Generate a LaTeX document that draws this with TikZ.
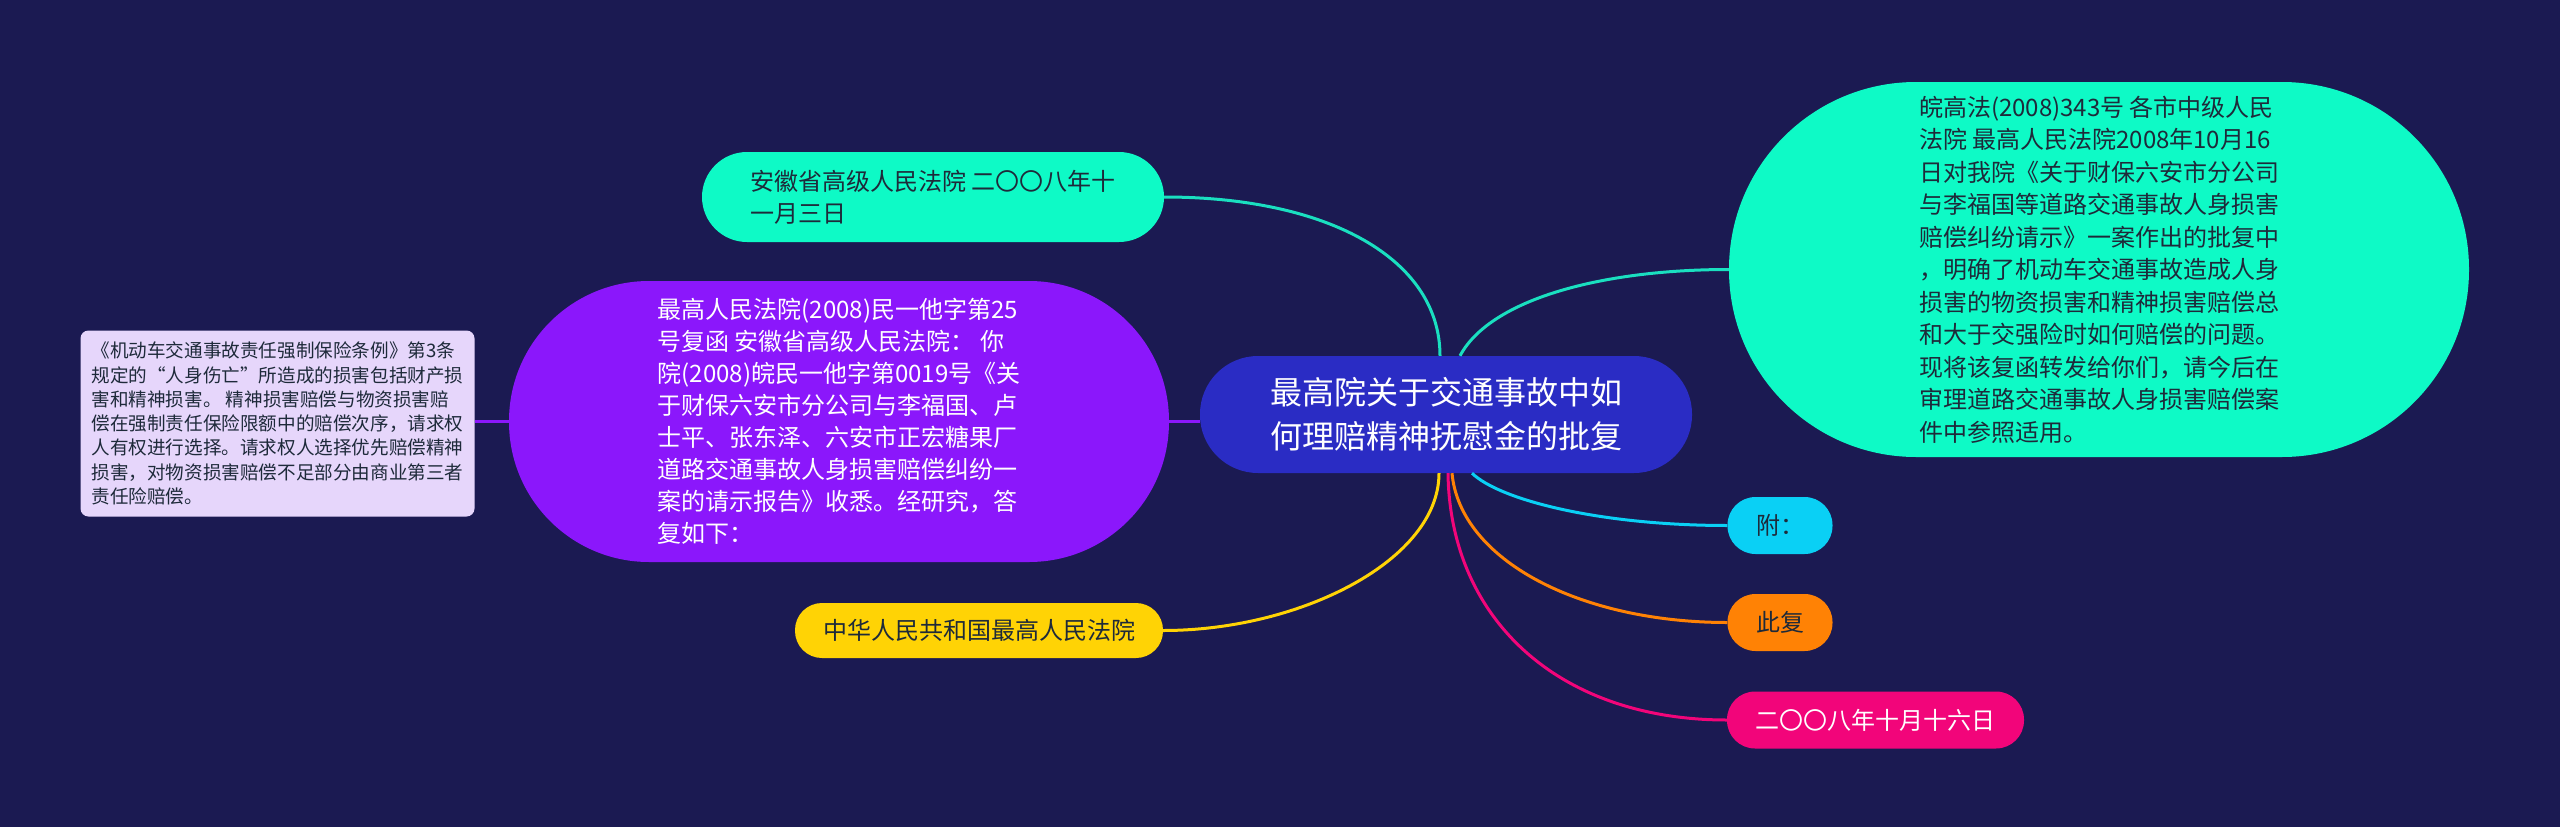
\documentclass[tikz,border=0pt]{standalone}
\usepackage{fontspec}
\setmainfont{Noto Sans CJK SC}
\definecolor{fondoMapa}{HTML}{1B1A52}
\definecolor{azulCentro}{HTML}{2A2CC4}
\definecolor{turquesaMapa}{HTML}{0EFAC6}
\definecolor{lineaTurquesa}{HTML}{1ADFC0}
\definecolor{moradoMapa}{HTML}{8B17FB}
\definecolor{lilaNota}{HTML}{E6D6FB}
\definecolor{amarilloMapa}{HTML}{FFD305}
\definecolor{cianMapa}{HTML}{0AD0F5}
\definecolor{naranjaMapa}{HTML}{FF8205}
\definecolor{rosaMapa}{HTML}{F2057A}
\definecolor{textoOscuro}{HTML}{1E2A3A}

\begin{document}
\begin{tikzpicture}[x=1pt,y=-1pt,
  pill/.style={rounded corners=#1,inner sep=0pt,align=left,text=textoOscuro,
    font=\fontsize{24}{32}\selectfont},
  link/.style={line width=3pt}]
  \fill[fondoMapa] (0,0) rectangle (2560,827);
  \node[pill=58pt,fill=azulCentro,text=white,align=center,font=\fontsize{32}{44}\selectfont,
    minimum width=492pt,minimum height=117pt] (hub) at (1446,414.5)
    {最高院关于交通事故中如\\何理赔精神抚慰金的批复};
  \node[pill=45pt,fill=turquesaMapa,minimum width=462pt,minimum height=90pt] (court) at (933,197)
    {安徽省高级人民法院 二〇〇八年十\\一月三日};
  \node[pill=140pt,fill=moradoMapa,text=white,minimum width=660pt,minimum height=281pt] (ruling) at (839,421.5)
    {最高人民法院(2008)民一他字第25\\号复函 安徽省高级人民法院： 你\\院(2008)皖民一他字第0019号《关\\于财保六安市分公司与李福国、卢\\士平、张东泽、六安市正宏糖果厂\\道路交通事故人身损害赔偿纠纷一\\案的请示报告》收悉。经研究，答\\复如下：};
  \node[pill=8pt,fill=lilaNota,font=\fontsize{18.6}{24.3}\selectfont,minimum width=394pt,minimum height=186pt] (note) at (277.5,423.5)
    {《机动车交通事故责任强制保险条例》第3条\\规定的“人身伤亡”所造成的损害包括财产损\\害和精神损害。 精神损害赔偿与物资损害赔\\偿在强制责任保险限额中的赔偿次序，请求权\\人有权进行选择。请求权人选择优先赔偿精神\\损害，对物资损害赔偿不足部分由商业第三者\\责任险赔偿。};
  \node[pill=187pt,fill=turquesaMapa,font=\fontsize{24}{32.5}\selectfont,minimum width=740pt,minimum height=375pt] (notice) at (2099,269.5)
    {皖高法(2008)343号 各市中级人民\\法院 最高人民法院2008年10月16\\日对我院《关于财保六安市分公司\\与李福国等道路交通事故人身损害\\赔偿纠纷请示》一案作出的批复中\\，明确了机动车交通事故造成人身\\损害的物资损害和精神损害赔偿总\\和大于交强险时如何赔偿的问题。\\现将该复函转发给你们，请今后在\\审理道路交通事故人身损害赔偿案\\件中参照适用。};
  \node[pill=27pt,fill=amarilloMapa,minimum width=368pt,minimum height=55pt] (sign) at (979,630.5)
    {中华人民共和国最高人民法院};
  \node[pill=28pt,fill=cianMapa,minimum width=105pt,minimum height=57pt] (attach) at (1780,525.5) {附：};
  \node[pill=28pt,fill=naranjaMapa,minimum width=105pt,minimum height=57pt] (reply) at (1780,622.5) {此复};
  \node[pill=28pt,fill=rosaMapa,text=white,minimum width=297pt,minimum height=57pt] (date) at (1875.5,720)
    {二〇〇八年十月十六日};
  \draw[link,lineaTurquesa] ([xshift=-6pt]hub.north) .. controls +(0,-96) and +(166,0) .. (court.east);
  \draw[link,lineaTurquesa] ([xshift=14pt]hub.north) .. controls +(30,-56) and +(-129,0) .. (notice.west);
  \draw[link,moradoMapa] (ruling.east) -- (ruling.east -| hub.west);
  \draw[link,moradoMapa] (ruling.west) -- (ruling.west -| note.east);
  \draw[link,amarilloMapa] ([xshift=-7pt]hub.south) .. controls +(0,87) and +(137,0) .. (sign.east);
  \draw[link,rosaMapa] ([xshift=2pt]hub.south) .. controls +(2,147) and +(-167,0) .. (date.west);
  \draw[link,naranjaMapa] ([xshift=6pt]hub.south) .. controls +(8,87) and +(-147,0) .. (reply.west);
  \draw[link,cianMapa] ([xshift=26pt]hub.south) .. controls +(28,27) and +(-127,0) .. (attach.west);
\end{tikzpicture}
\end{document}
